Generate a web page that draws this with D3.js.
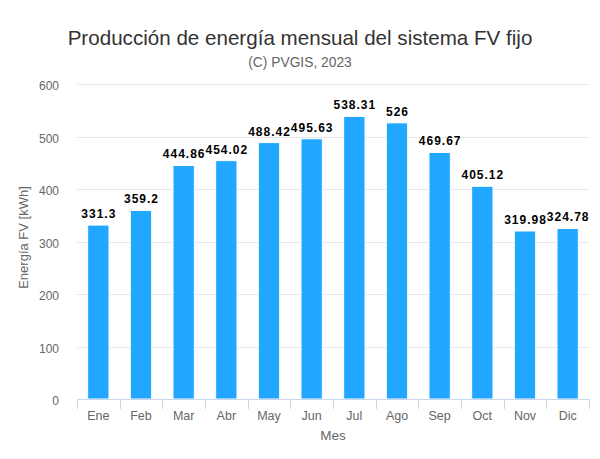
<!DOCTYPE html>
<html>
<head>
<meta charset="utf-8">
<script src="https://cdn.jsdelivr.net/npm/d3@7"></script>
<style>
html,body{margin:0;padding:0;background:#fff;}
text{font-family:"Liberation Sans",Arial,Helvetica,sans-serif;}
</style>
</head>
<body>
<svg id="chart" width="600" height="459"></svg>
<script>
const months = ["Ene","Feb","Mar","Abr","May","Jun","Jul","Ago","Sep","Oct","Nov","Dic"];
const energy = [331.3, 359.2, 444.86, 454.02, 488.42, 495.63, 538.31, 526, 469.67, 405.12, 319.98, 324.78];
const yTicks = [0, 100, 200, 300, 400, 500, 600];
const titleText = "Producción de energía mensual del sistema FV fijo";
const subtitleText = "(C) PVGIS, 2023";
const yTitle = "Energía FV [kWh]";
const xTitle = "Mes";

const svg = d3.select("#chart");
const plotLeft = 77, plotRight = 589, plotTop = 84, plotBottom = 399;

const x = d3.scaleBand().domain(months).range([plotLeft, plotRight]).paddingInner(0.5).paddingOuter(0.25);
const y = d3.scaleLinear().domain([0, 600]).range([plotBottom, plotTop]);

// title
svg.append("text").attr("x", 300).attr("y", 45).attr("text-anchor", "middle")
  .attr("fill", "#333333").style("font-size", "20.6px").text(titleText);
svg.append("text").attr("x", 300).attr("y", 67).attr("text-anchor", "middle")
  .attr("fill", "#666666").style("font-size", "13.8px").text(subtitleText);

// gridlines
svg.append("g").selectAll("line").data(yTicks.filter(d => d > 0)).join("line")
  .attr("x1", plotLeft).attr("x2", plotRight)
  .attr("y1", d => Math.round(y(d)) + 0.5).attr("y2", d => Math.round(y(d)) + 0.5)
  .attr("stroke", "#e6e6e6").attr("stroke-width", 1);

// y labels
svg.append("g").selectAll("text").data(yTicks).join("text")
  .attr("x", 59).attr("y", d => y(d) + 6).attr("text-anchor", "end")
  .attr("fill", "#666666").style("font-size", "12px").text(d => d);

// y title
svg.append("text").attr("transform", `translate(27.5,${(plotTop + plotBottom) / 2 - 4}) rotate(-90)`)
  .attr("text-anchor", "middle").attr("fill", "#666666").style("font-size", "13px").text(yTitle);

// bars
svg.append("g").selectAll("rect").data(energy).join("rect")
  .attr("x", (d, i) => x(months[i]))
  .attr("width", x.bandwidth())
  .attr("y", d => y(d))
  .attr("height", d => y(0) - y(d))
  .attr("fill", "#21a7ff").attr("stroke", "#ffffff").attr("stroke-width", 1);

// x axis line & ticks
const step = x.step();
svg.append("line").attr("x1", plotLeft).attr("x2", plotRight).attr("y1", plotBottom + 0.5).attr("y2", plotBottom + 0.5)
  .attr("stroke", "#ccd6eb").attr("stroke-width", 1);
svg.append("g").selectAll("line").data(d3.range(months.length + 1)).join("line")
  .attr("x1", i => Math.round(plotLeft + i * step) + 0.5).attr("x2", i => Math.round(plotLeft + i * step) + 0.5)
  .attr("y1", plotBottom).attr("y2", plotBottom + 10)
  .attr("stroke", "#ccd6eb").attr("stroke-width", 1);

// x labels
svg.append("g").selectAll("text").data(months).join("text")
  .attr("x", d => x(d) + x.bandwidth() / 2).attr("y", 420).attr("text-anchor", "middle")
  .attr("fill", "#666666").style("font-size", "12.5px").text(d => d);

svg.append("text").attr("x", (plotLeft + plotRight) / 2).attr("y", 440).attr("text-anchor", "middle")
  .attr("fill", "#666666").style("font-size", "13.5px").text(xTitle);

// data labels
svg.append("g").selectAll("text").data(energy).join("text")
  .attr("x", (d, i) => x(months[i]) + x.bandwidth() / 2 + 0.5)
  .attr("y", d => y(d) - 7)
  .attr("text-anchor", "middle")
  .attr("fill", "#000000")
  .attr("stroke", "#ffffff").attr("stroke-width", 2).attr("paint-order", "stroke")
  .style("font-size", "12px").style("font-weight", "bold").style("letter-spacing", "1px")
  .text(d => d);
</script>
</body>
</html>
